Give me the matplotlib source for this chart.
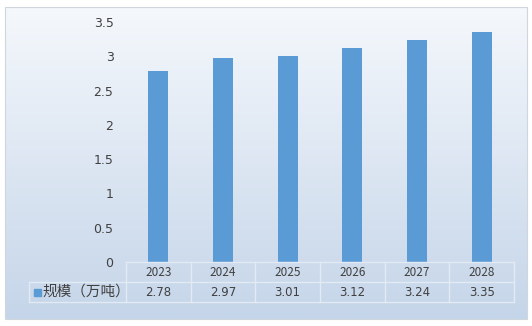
import numpy as np
import matplotlib.pyplot as plt
from matplotlib.patches import Rectangle

plt.rcParams['font.family'] = ['Noto Sans CJK SC', 'DejaVu Sans']

# 数据
years = ['2023', '2024', '2025', '2026', '2027', '2028']
scale = [2.78, 2.97, 3.01, 3.12, 3.24, 3.35]
series_name = '规模（万吨）'
y_ticks = [0, 0.5, 1, 1.5, 2, 2.5, 3, 3.5]

W, H = 532, 326
bar_color = '#5b9bd5'
text_color = '#404040'
line_color = '#e2eaf4'


def fx(px):
    return px / W


def fy(py):
    return 1 - py / H


fig = plt.figure(figsize=(W / 100, H / 100), dpi=100)
fig.patch.set_facecolor('white')

# 背景渐变
bg = fig.add_axes([fx(5), fy(319), fx(522), (319 - 7) / H])
grad = np.linspace(0, 1, 256).reshape(-1, 1)
top = np.array([245, 248, 252]) / 255
bottom = np.array([197, 213, 233]) / 255
img = top + (bottom - top) * grad[..., None]
bg.imshow(img, aspect='auto', extent=[0, 1, 0, 1])
bg.set_axis_off()
fig.add_artist(Rectangle((fx(5), fy(319)), fx(522), (319 - 7) / H,
                         fill=False, edgecolor='#cfd6de', linewidth=0.8,
                         transform=fig.transFigure))

# 柱状图
x0, x1, ytop, ybot = 126, 514, 22, 262
ax = fig.add_axes([fx(x0), fy(ybot), fx(x1 - x0), (ybot - ytop) / H])
ax.patch.set_alpha(0)
pos = np.arange(len(years))
ax.bar(pos, scale, width=0.31, color=bar_color)
ax.set_xlim(-0.5, len(years) - 0.5)
ax.set_ylim(0, 3.5)
ax.set_yticks(y_ticks)
ax.set_yticklabels([f'{t:g}' for t in y_ticks], color=text_color, fontsize=9,
                   family='DejaVu Sans')
ax.tick_params(axis='y', length=0, pad=9)
ax.set_xticks([])
for s in ax.spines.values():
    s.set_visible(False)

# 数据表
col_w = (x1 - x0) / len(years)
row1, row2, row3 = 262, 282, 302
left = 29
kw = dict(color=line_color, linewidth=1.0, transform=fig.transFigure)
fig.add_artist(plt.Line2D([fx(x0), fx(x1)], [fy(row1), fy(row1)], **kw))
fig.add_artist(plt.Line2D([fx(left), fx(x1)], [fy(row2), fy(row2)], **kw))
fig.add_artist(plt.Line2D([fx(left), fx(x1)], [fy(row3), fy(row3)], **kw))
fig.add_artist(plt.Line2D([fx(left), fx(left)], [fy(row2), fy(row3)], **kw))
for i in range(len(years) + 1):
    xx = x0 + i * col_w
    fig.add_artist(plt.Line2D([fx(xx), fx(xx)], [fy(row1), fy(row3)], **kw))

for i, (yr, v) in enumerate(zip(years, scale)):
    cx = x0 + (i + 0.5) * col_w
    fig.text(fx(cx), fy((row1 + row2) / 2), yr, ha='center', va='center',
             fontsize=8.5, color=text_color)
    fig.text(fx(cx), fy((row2 + row3) / 2), f'{v:.2f}', ha='center', va='center',
             fontsize=8.5, color=text_color, family='DejaVu Sans')

fig.add_artist(Rectangle((fx(34), fy(296)), fx(7), 7 / H, color=bar_color,
                         transform=fig.transFigure))
fig.text(fx(42), fy((row2 + row3) / 2), series_name, ha='left', va='center',
         fontsize=10.5, color=text_color)

fig.savefig('out.png', dpi=100)
